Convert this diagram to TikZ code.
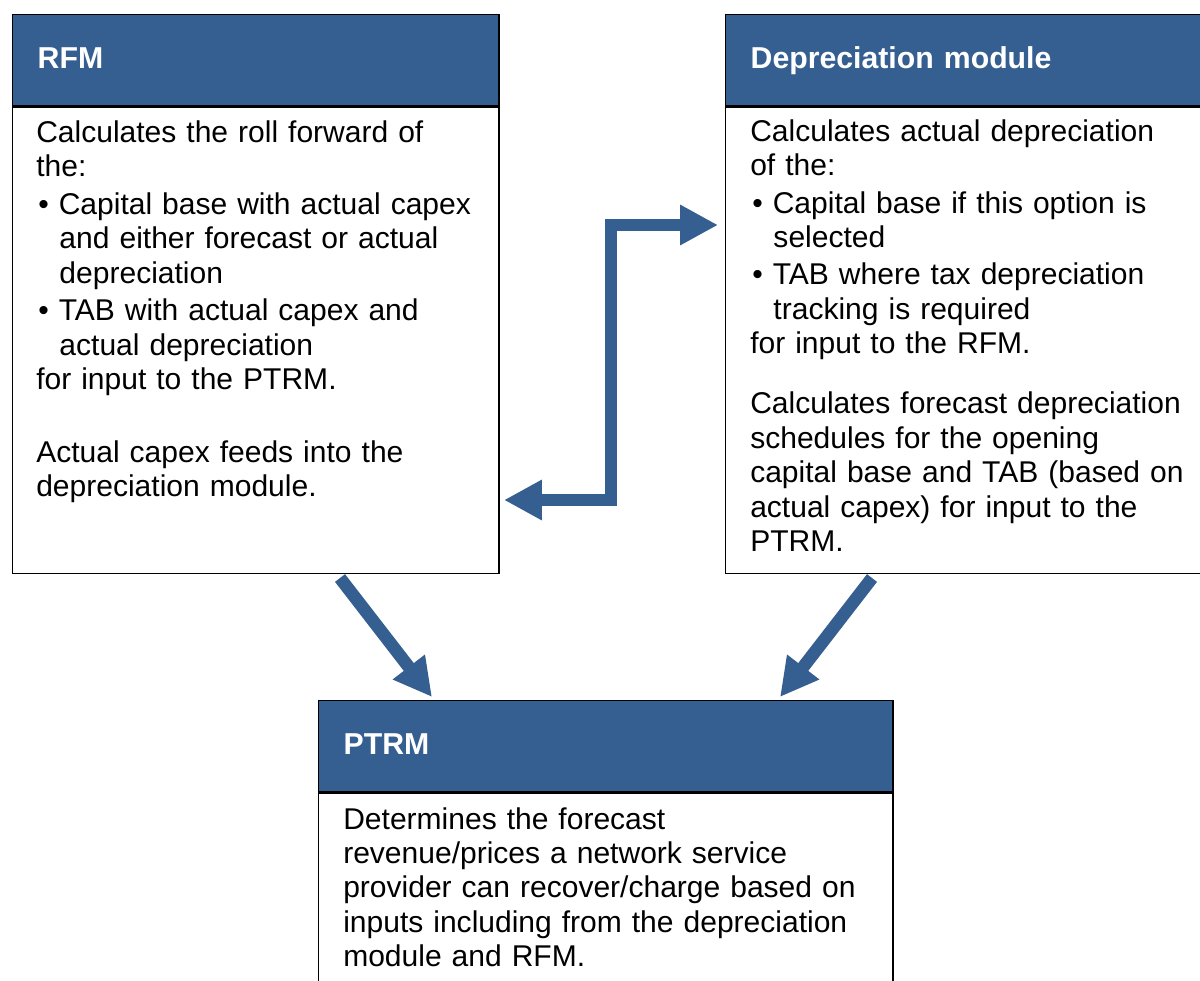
\documentclass[tikz,border=0pt]{standalone}
\usepackage{fontspec}
\setmainfont{Liberation Sans}
\usetikzlibrary{arrows.meta,positioning}

% vineta y sangria de las listas
\newcommand{\vin}{\makebox[16pt][l]{\hspace{1.5pt}\textbullet}}
\newcommand{\sang}{\hspace*{16.5pt}}

\begin{document}
\begin{tikzpicture}[x=0.025cm,y=-0.025cm,
    punta/.tip={Triangle[length=27pt,width=27pt]},
    cabecera/.style={draw=black,line width=1pt,fill=azul,text=white,
      font=\fontsize{21.5}{24}\selectfont\bfseries,align=left,
      inner xsep=0.625cm,inner ysep=0pt,minimum height=2.275cm,
      text height=15.5pt,text depth=4pt,anchor=north west},
    cuerpo/.style={draw=black,line width=1pt,fill=white,inner sep=0pt},
    texto/.style={anchor=base west,inner sep=0pt,align=left,text width=11.5cm,
      font=\fontsize{21.35}{24.5}\selectfont},
    flecha/.style={draw=azul,line width=9pt,-punta}]
        %colores
        \definecolor{azul}{RGB}{54,95,145}

        \useasboundingbox (0,0) rectangle (1200,980);
        \clip (0,0) rectangle (1200,980);

        % Cajas
        \node[cabecera,text width=10.9cm] (rfmcab) at (12,14) {RFM};
        \node[cuerpo,minimum width=12.15cm,minimum height=11.65cm,below=0pt of rfmcab] (rfmcpo) {};
        \node[cabecera,text width=10.9cm] (depcab) at (725,14) {Depreciation module};
        \node[cuerpo,minimum width=12.15cm,minimum height=11.65cm,below=0pt of depcab] (depcpo) {};
        \node[cabecera,text width=13.1cm] (ptrmcab) at (318,700) {PTRM};
        \node[cuerpo,minimum width=14.35cm,minimum height=7cm,below=0pt of ptrmcab] (ptrmcpo) {};

        % Textos
        \node[texto] (rfmtxt) at (36,142.5) {Calculates the roll forward of\\
          the:\\[2.2pt]
          \vin Capital base with actual capex\\
          \sang and either forecast or actual\\
          \sang depreciation\\[2.2pt]
          \vin TAB with actual capex and\\
          \sang actual depreciation\\
          for input to the PTRM.\\[27pt]
          Actual capex feeds into the\\
          depreciation module.};
        \node[texto] (deptxt) at (750,141) {Calculates actual depreciation\\
          of the:\\[2.2pt]
          \vin Capital base if this option is\\
          \sang selected\\[2.2pt]
          \vin TAB where tax depreciation\\
          \sang tracking is required\\
          for input to the RFM.\\[18pt]
          Calculates forecast depreciation\\
          schedules for the opening\\
          capital base and TAB (based on\\
          actual capex) for input to the\\
          PTRM.};
        \node[texto,text width=13.5cm] (ptrmtxt) at (343,829) {Determines the forecast\\
          revenue/prices a network service\\
          provider can recover/charge based on\\
          inputs including from the depreciation\\
          module and RFM.};

        % Flechas
        \coordinate (izq) at (504,500);
        \coordinate (codo) at (611,225);
        \coordinate (der) at (718,225);
        \draw[flecha,punta-punta] (izq) -| (codo) -- (der);

        \coordinate (rfmsal) at (340,578);
        \coordinate (ptrmizq) at (432,697);
        \coordinate (depsal) at (872,578);
        \coordinate (ptrmder) at (780,697);
        \draw[flecha] (rfmsal) -- (ptrmizq);
        \draw[flecha] (depsal) -- (ptrmder);
    \end{tikzpicture}
\end{document}
